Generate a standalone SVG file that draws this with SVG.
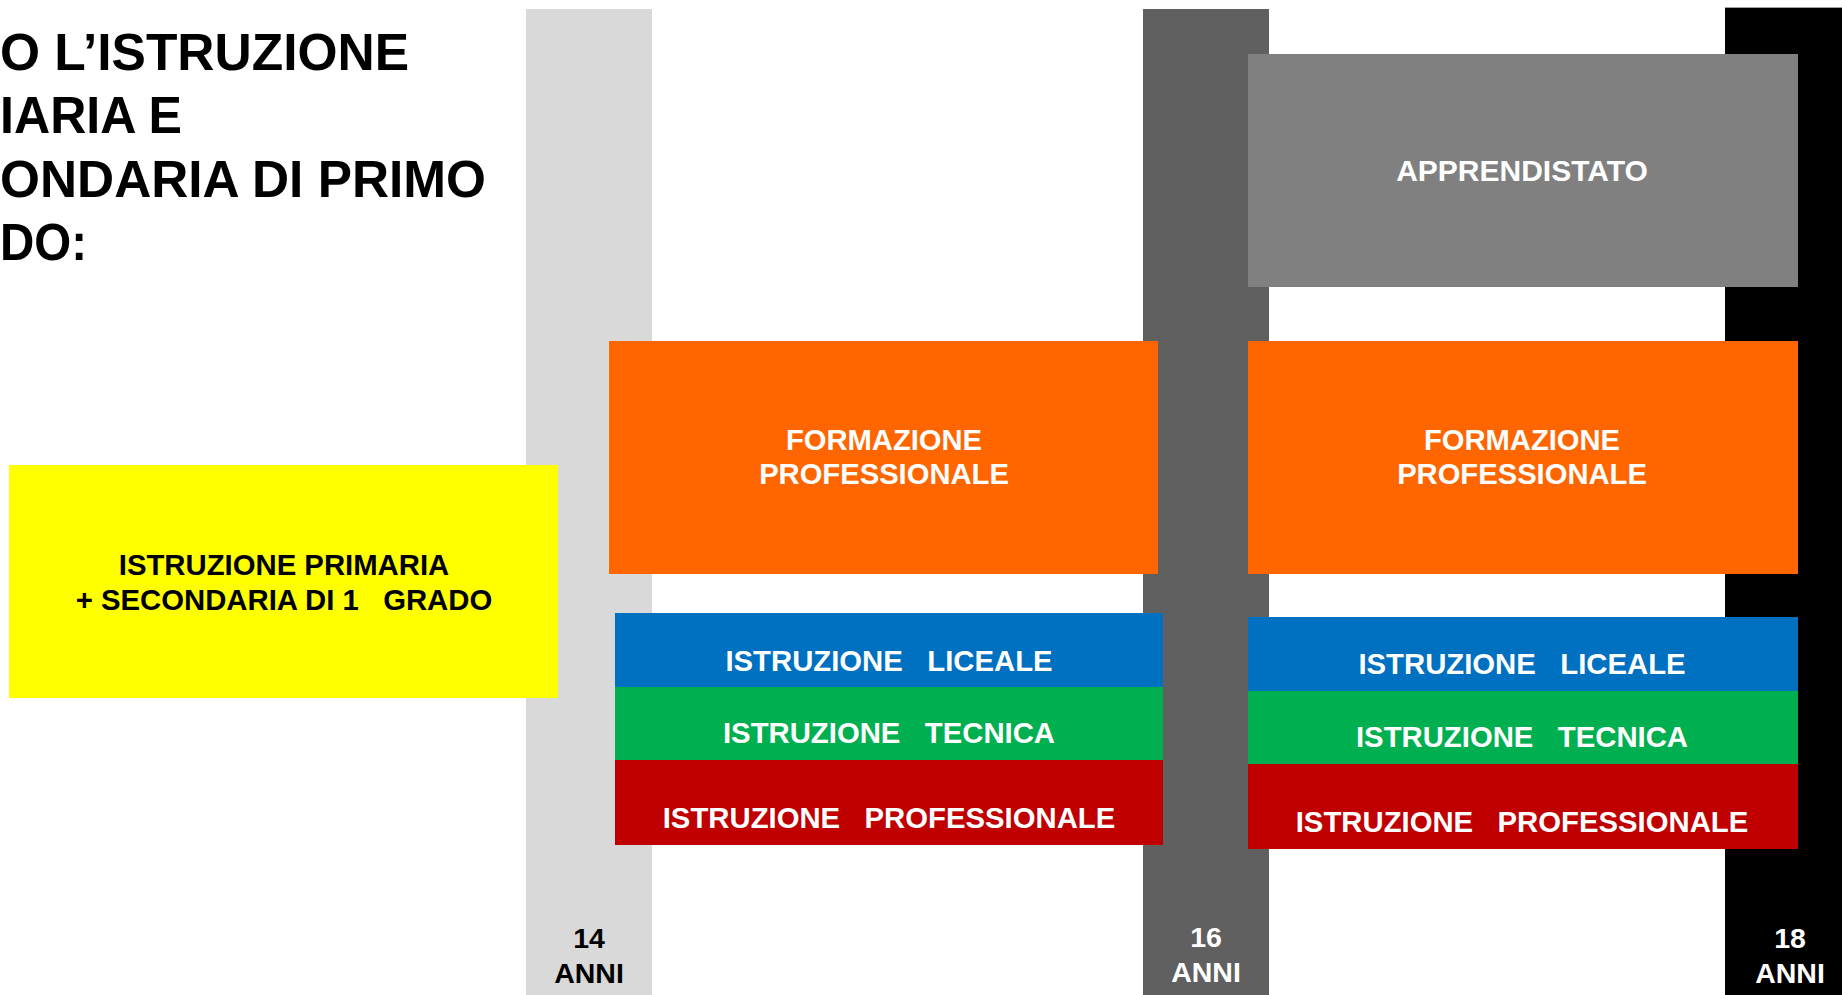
<svg xmlns="http://www.w3.org/2000/svg" width="1842" height="995" viewBox="0 0 1842 995">
<style>
text{font-family:"Liberation Sans",Arial,sans-serif;font-weight:bold;white-space:pre}
.w{fill:#FFFFFF}
.k{fill:#000000}
.t29{font-size:29.3px;text-anchor:middle}
.t28{font-size:29.2px;text-anchor:middle}
.tap{font-size:30px;text-anchor:middle}
.age{font-size:28.5px;text-anchor:middle}
.title{font-size:52px;fill:#000000}
</style>
<rect x="0" y="0" width="1842" height="995" fill="#FFFFFF"/>
<g id="title">
<text class="title" x="0" y="70" textLength="409" lengthAdjust="spacingAndGlyphs">O L’ISTRUZIONE</text>
<text class="title" x="0" y="133" textLength="182" lengthAdjust="spacingAndGlyphs">IARIA E</text>
<text class="title" x="0" y="197" textLength="486" lengthAdjust="spacingAndGlyphs">ONDARIA DI PRIMO</text>
<text class="title" x="0" y="260" textLength="87" lengthAdjust="spacingAndGlyphs">DO:</text>
</g>
<g id="age14">
<rect x="526" y="9" width="126" height="986" fill="#D9D9D9"/>
<text class="age k" x="589" y="948">14</text>
<text class="age k" x="589" y="983">ANNI</text>
</g>
<g id="age16">
<rect x="1143" y="9" width="126" height="986" fill="#606060"/>
<text class="age w" x="1206" y="947">16</text>
<text class="age w" x="1206" y="982">ANNI</text>
</g>
<g id="age18">
<rect x="1725" y="7" width="117" height="988" fill="#000000"/>
<rect x="1725" y="7" width="117" height="1" fill="#A0A0A0"/>
<text class="age w" x="1790" y="948">18</text>
<text class="age w" x="1790" y="983">ANNI</text>
</g>
<g id="primaria">
<rect x="9" y="465" width="549" height="233" fill="#FFFF00"/>
<text class="t29 k" x="284" y="575">ISTRUZIONE PRIMARIA</text>
<text class="t29 k" x="284" y="610" xml:space="preserve">+ SECONDARIA DI 1   GRADO</text>
</g>
<g id="formazione1">
<rect x="609" y="341" width="549" height="233" fill="#FF6600"/>
<text class="t28 w" x="884" y="450">FORMAZIONE</text>
<text class="t28 w" x="884" y="484">PROFESSIONALE</text>
</g>
<g id="formazione2">
<rect x="1248" y="341" width="550" height="233" fill="#FF6600"/>
<text class="t28 w" x="1522" y="450">FORMAZIONE</text>
<text class="t28 w" x="1522" y="484">PROFESSIONALE</text>
</g>
<g id="apprendistato">
<rect x="1248" y="54" width="550" height="233" fill="#808080"/>
<text class="tap w" x="1522" y="181">APPRENDISTATO</text>
</g>
<g id="liceale1">
<rect x="615" y="613" width="548" height="74" fill="#0070C0"/>
<text class="t29 w" x="889" y="671" xml:space="preserve">ISTRUZIONE   LICEALE</text>
</g>
<g id="tecnica1">
<rect x="615" y="687" width="548" height="73" fill="#00B050"/>
<text class="t29 w" x="889" y="743" xml:space="preserve">ISTRUZIONE   TECNICA</text>
</g>
<g id="professionale1">
<rect x="615" y="760" width="548" height="85" fill="#C00000"/>
<text class="t29 w" x="889" y="828" xml:space="preserve">ISTRUZIONE   PROFESSIONALE</text>
</g>
<g id="liceale2">
<rect x="1248" y="617" width="550" height="74" fill="#0070C0"/>
<text class="t29 w" x="1522" y="674" xml:space="preserve">ISTRUZIONE   LICEALE</text>
</g>
<g id="tecnica2">
<rect x="1248" y="691" width="550" height="73" fill="#00B050"/>
<text class="t29 w" x="1522" y="747" xml:space="preserve">ISTRUZIONE   TECNICA</text>
</g>
<g id="professionale2">
<rect x="1248" y="764" width="550" height="85" fill="#C00000"/>
<text class="t29 w" x="1522" y="832" xml:space="preserve">ISTRUZIONE   PROFESSIONALE</text>
</g>
<g id="connectors"/>
</svg>
